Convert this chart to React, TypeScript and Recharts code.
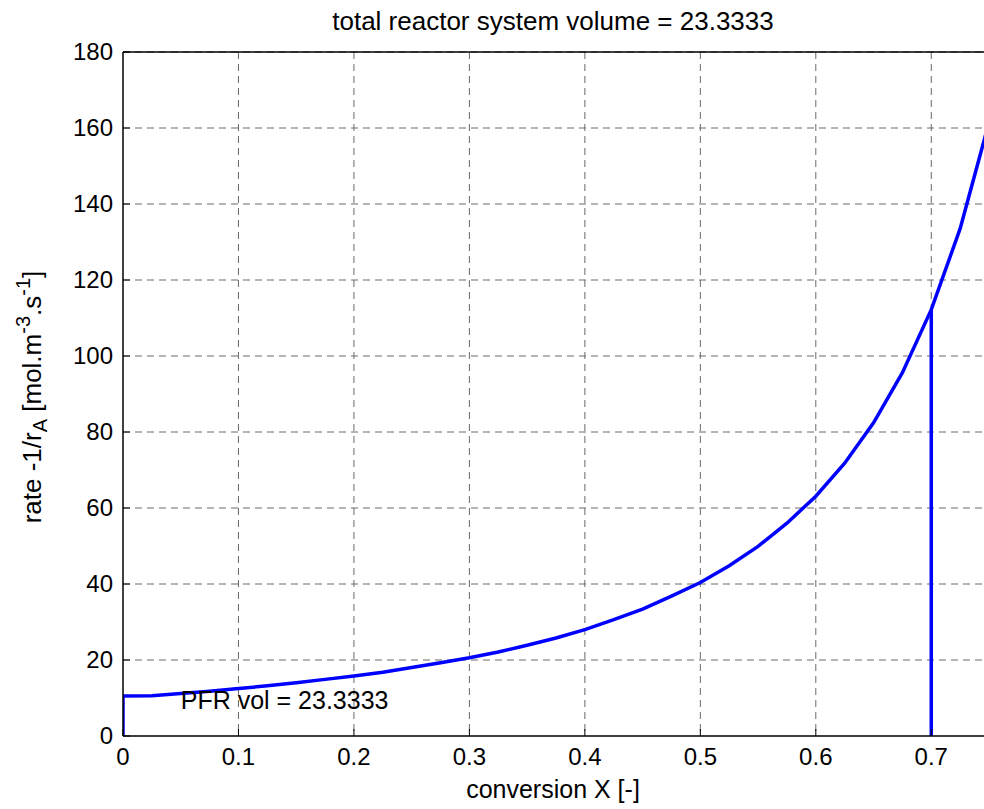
import { LineChart, Line, XAxis, YAxis, CartesianGrid, ReferenceDot } from "recharts";

// conversion X and rate -1/rA
const conversion = [
  0, 0, 0.025, 0.05, 0.075, 0.1, 0.125, 0.15, 0.175, 0.2, 0.225, 0.25, 0.275, 0.3,
  0.325, 0.35, 0.375, 0.4, 0.425, 0.45, 0.475, 0.5, 0.525, 0.55, 0.575, 0.6,
  0.625, 0.65, 0.675, 0.7, 0.725, 0.75,
];
const rate = [
  0, 10.5, 10.6, 11.2, 11.8, 12.5, 13.2, 14.0, 14.9, 15.8, 16.8, 18.0, 19.3, 20.6,
  22.1, 23.9, 25.8, 28.0, 30.6, 33.4, 36.8, 40.4, 44.8, 49.9, 56.0, 63.1,
  71.8, 82.4, 95.6, 112.2, 133.5, 161.5,
];

// PFR exit line
const exitX = [0.7, 0.7];
const exitRate = [0, 112.2];

const xTicks = [0, 0.1, 0.2, 0.3, 0.4, 0.5, 0.6, 0.7];
const yTicks = [0, 20, 40, 60, 80, 100, 120, 140, 160, 180];

const title = "total reactor system volume = 23.3333";
const pfrLabel = "PFR vol = 23.3333";

const curveData = conversion.map((x, i) => ({ x, y: rate[i] }));
const exitData = exitX.map((x, i) => ({ x, y: exitRate[i] }));

const FONT = "'Liberation Sans', Arial, Helvetica, sans-serif";

const BottomTick = (props: any) => {
  const { x, y, payload } = props;
  return (
    <g>
      <line x1={x} x2={x} y1={y} y2={y - 7} stroke="#000" strokeWidth={1} />
      <text x={x} y={y + 29} textAnchor="middle" fontSize={24} fontFamily={FONT} fill="#000">
        {String(payload.value)}
      </text>
    </g>
  );
};

const TopTick = (props: any) => {
  const { x, y } = props;
  return <line x1={x} x2={x} y1={y} y2={y + 7} stroke="#000" strokeWidth={1} />;
};

const LeftTick = (props: any) => {
  const { x, y, payload } = props;
  return (
    <g>
      <line x1={x} x2={x + 7} y1={y} y2={y} stroke="#000" strokeWidth={1} />
      <text x={x - 10} y={y + 8} textAnchor="end" fontSize={24} fontFamily={FONT} fill="#000">
        {String(payload.value)}
      </text>
    </g>
  );
};

const PfrText = (props: any) => {
  const { cx, cy } = props;
  return (
    <text x={cx} y={cy + 8} fontSize={25} fontFamily={FONT} fill="#000">
      {pfrLabel}
    </text>
  );
};

export default function App() {
  return (
    <div
      style={{
        position: "fixed",
        left: 0,
        top: 0,
        width: 984,
        height: 809,
        overflow: "hidden",
        background: "#fff",
      }}
    >
      <LineChart
        width={1000}
        height={809}
        margin={{ top: 42, right: 11, bottom: 43, left: 113 }}
      >
        <CartesianGrid
          stroke="#6a6a6a"
          strokeDasharray="7 5"
          verticalValues={xTicks.slice(1)}
          horizontalValues={yTicks.slice(1)}
        />
        <XAxis
          dataKey="x"
          type="number"
          domain={[0, 0.75]}
          ticks={xTicks}
          interval={0}
          height={30}
          tickSize={0}
          tickMargin={0}
          tickLine={false}
          axisLine={{ stroke: "#000", strokeWidth: 1.5 }}
          tick={<BottomTick />}
          allowDataOverflow
        />
        <XAxis
          xAxisId="top"
          orientation="top"
          dataKey="x"
          type="number"
          domain={[0, 0.75]}
          ticks={xTicks}
          interval={0}
          height={10}
          tickSize={0}
          tickMargin={0}
          tickLine={false}
          axisLine={{ stroke: "#000", strokeWidth: 1.5 }}
          tick={<TopTick />}
        />
        <YAxis
          type="number"
          domain={[0, 180]}
          ticks={yTicks}
          interval={0}
          width={10}
          tickSize={0}
          tickMargin={0}
          tickLine={false}
          axisLine={{ stroke: "#000", strokeWidth: 1.5 }}
          tick={<LeftTick />}
          allowDataOverflow
        />
        <Line
          data={curveData}
          dataKey="y"
          type="linear"
          stroke="#0000ff"
          strokeWidth={3.5}
          dot={false}
          isAnimationActive={false}
        />
        <Line
          data={exitData}
          dataKey="y"
          type="linear"
          stroke="#0000ff"
          strokeWidth={3.5}
          dot={false}
          isAnimationActive={false}
        />
        <ReferenceDot x={0.05} y={9.3} r={0} shape={<PfrText />} ifOverflow="visible" />
      </LineChart>
      <svg
        width={984}
        height={809}
        style={{ position: "absolute", left: 0, top: 0, pointerEvents: "none" }}
      >
        <text x={553} y={30} textAnchor="middle" fontSize={26} fontFamily={FONT} fill="#000">
          {title}
        </text>
        <text x={553} y={798} textAnchor="middle" fontSize={25} fontFamily={FONT} fill="#000">
          conversion X [-]
        </text>
        <text
          x={41}
          y={397}
          textAnchor="middle"
          fontSize={26}
          fontFamily={FONT}
          fill="#000"
          transform="rotate(-90, 41, 397)"
        >
          rate -1/r
          <tspan fontSize={20} dy={6}>A</tspan>
          <tspan dy={-6}>{"  [mol.m"}</tspan>
          <tspan fontSize={20} dy={-11}>-3</tspan>
          <tspan dy={11}>.s</tspan>
          <tspan fontSize={20} dy={-11}>-1</tspan>
          <tspan dy={11}>]</tspan>
        </text>
      </svg>
    </div>
  );
}
